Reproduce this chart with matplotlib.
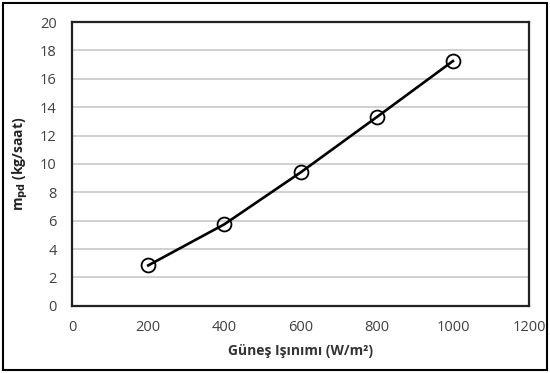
import numpy as np
import matplotlib.pyplot as plt
from matplotlib.patches import Rectangle

# Data
irradiance = [200, 400, 600, 800, 1000]
m_pd = [2.85, 5.75, 9.4, 13.3, 17.25]

plt.rcParams['font.family'] = ['Open Sans', 'DejaVu Sans']
plt.rcParams['font.size'] = 10

fig = plt.figure(figsize=(5.5, 3.73), dpi=100)
ax = fig.add_axes([0.131, 0.18, 0.831, 0.761])

ax.plot(irradiance, m_pd, '-', color='black', linewidth=1.9, zorder=3)
ax.plot(irradiance, m_pd, 'o', markersize=10, markerfacecolor='none',
        markeredgecolor='black', markeredgewidth=1.3, zorder=4)

ax.set_xlim(0, 1200)
ax.set_ylim(0, 20)
ax.set_xticks(np.arange(0, 1201, 200))
ax.set_yticks(np.arange(0, 21, 2))
ax.tick_params(length=0, colors='#404040', labelsize=10.5)
ax.tick_params(axis='y', pad=11)
ax.tick_params(axis='x', pad=10)
ax.yaxis.grid(True, color='#c8c8c8', linewidth=1.2)
ax.set_axisbelow(True)
for s in ax.spines.values():
    s.set_color('#222222')
    s.set_linewidth(1.6)

ax.set_xlabel('Güneş Işınımı (W/m²)', fontweight='bold', color='#333333', labelpad=7)
ax.set_ylabel(r'm$_{\mathbf{pd}}$ (kg/saat)', fontweight='bold', color='#222222', labelpad=7)

fig.patches.append(Rectangle((0.006, 0.008), 0.988, 0.984, transform=fig.transFigure,
                             fill=False, edgecolor='black', linewidth=1.5))

fig.savefig('out.png', dpi=100)
